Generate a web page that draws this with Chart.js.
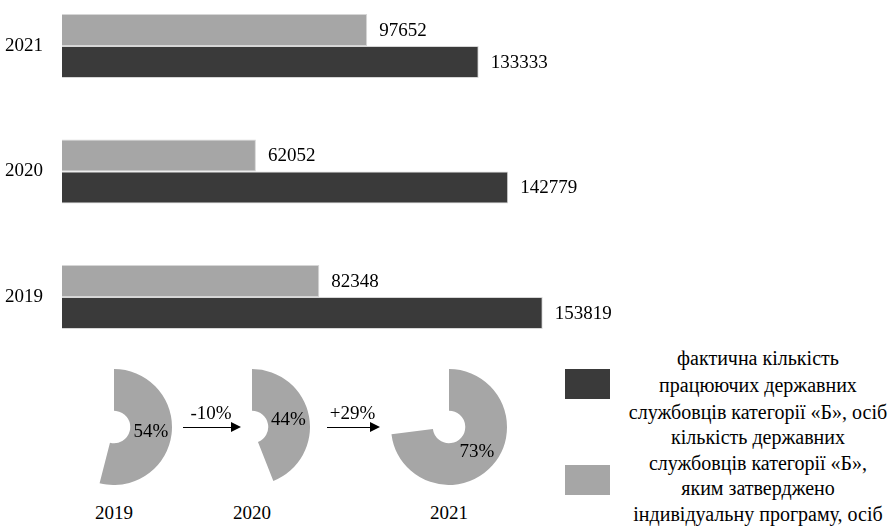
<!DOCTYPE html>
<html>
<head>
<meta charset="utf-8">
<script src="https://cdn.jsdelivr.net/npm/chart.js@4.4.0/dist/chart.umd.min.js"></script>
<style>
    body { margin: 0; background: #fff; }
    #wrap {
        position: relative; width: 893px; height: 527px; overflow: hidden;
        font-family: 'Liberation Serif', 'DejaVu Serif', serif; color: #000;
    }
    .abs { position: absolute; }
    .year { font-size: 19px; width: 60px; text-align: center; line-height: 20px; }
    .change { font-size: 19px; width: 70px; text-align: center; line-height: 20px; }
    .arrow { height: 0; border-top: 1.5px solid #000; }
    .arrow::after {
        content: ''; position: absolute; right: -2px; top: -6px;
        border-left: 10px solid #000; border-top: 5px solid transparent; border-bottom: 5px solid transparent;
    }
    .legend-box { width: 45px; height: 30px; }
    .legend-text { font-size: 20px; width: 340px; text-align: center; }
</style>
</head>
<body>
<div id="wrap">
    <div class="abs" style="left:0;top:0;width:893px;height:345px;"><canvas id="barChart"></canvas></div>
    <div id="bottom"></div>
</div>
<script>
// дані
const years = ['2021', '2020', '2019'];
const totalStaff = [133333, 142779, 153819];
const approvedStaff = [97652, 62052, 82348];

const pieYears = ['2019', '2020', '2021'];
const pieShares = [54, 44, 73];
const changes = ['-10%', '+29%'];

const legendLabels = [
    ['фактична кількість', 'працюючих державних', 'службовців категорії «Б», осіб'],
    ['кількість державних', 'службовців категорії «Б»,', 'яким затверджено', 'індивідуальну програму, осіб']
];

const DARK = '#3a3a3a';
const GRAY = '#a6a6a6';
const FONT = "'Liberation Serif', 'DejaVu Serif', serif";

// підписи значень біля стовпців
const valueLabels = {
    id: 'valueLabels',
    afterDatasetsDraw(chart) {
        const ctx = chart.ctx;
        ctx.save();
        ctx.font = '19px ' + FONT;
        ctx.fillStyle = '#000';
        ctx.textAlign = 'left';
        ctx.textBaseline = 'middle';
        chart.data.datasets.forEach((ds, i) => {
            chart.getDatasetMeta(i).data.forEach((bar, j) => {
                ctx.fillText(String(ds.data[j]), bar.x + 12, bar.y + 1);
            });
        });
        ctx.restore();
    }
};

new Chart(document.getElementById('barChart').getContext('2d'), {
    type: 'bar',
    data: {
        labels: years,
        datasets: [
            {
                label: legendLabels[1].join(' '),
                data: approvedStaff,
                backgroundColor: GRAY,
                borderColor: '#d6d6d6',
                borderWidth: 1,
                categoryPercentage: 0.51,
                barPercentage: 1.0,
                clip: false
            },
            {
                label: legendLabels[0].join(' '),
                data: totalStaff,
                backgroundColor: DARK,
                borderColor: '#d6d6d6',
                borderWidth: 1,
                categoryPercentage: 0.51,
                barPercentage: 1.0,
                clip: false
            }
        ]
    },
    options: {
        indexAxis: 'y',
        responsive: true,
        maintainAspectRatio: false,
        animation: false,
        layout: { padding: { top: 46, bottom: 48, right: 206 } },
        plugins: { legend: { display: false }, tooltip: { enabled: false } },
        scales: {
            x: { display: false, min: 0, max: 200000 },
            y: {
                offset: false,
                grid: { display: false, drawTicks: false },
                border: { display: false },
                ticks: { font: { family: FONT, size: 19 }, color: '#000', padding: 19 },
                afterFit(scale) { scale.width = 62; }
            }
        }
    },
    plugins: [valueLabels]
});

// кругові діаграми
const pieCenters = [114, 252, 449];
const pieCy = 427;
const pieR = 58;
const bottom = document.getElementById('bottom');

const pieLabel = {
    id: 'pieLabel',
    afterDatasetsDraw(chart) {
        const arc = chart.getDatasetMeta(0).data[0];
        const p = arc.getCenterPoint();
        const ctx = chart.ctx;
        ctx.save();
        ctx.font = '19px ' + FONT;
        ctx.fillStyle = '#000';
        ctx.textAlign = 'center';
        ctx.textBaseline = 'middle';
        ctx.fillText(chart.data.datasets[0].data[0] + '%', p.x, p.y);
        ctx.restore();
    }
};

pieYears.forEach((y, i) => {
    const box = document.createElement('div');
    box.className = 'abs';
    box.style.cssText = `left:${pieCenters[i] - pieR}px;top:${pieCy - pieR}px;width:${pieR * 2}px;height:${pieR * 2}px;`;
    const canvas = document.createElement('canvas');
    box.appendChild(canvas);
    bottom.appendChild(box);

    new Chart(canvas.getContext('2d'), {
        type: 'doughnut',
        data: {
            labels: ['share', 'rest'],
            datasets: [{
                data: [pieShares[i], 100 - pieShares[i]],
                backgroundColor: [GRAY, 'rgba(0,0,0,0)'],
                borderWidth: 0
            }]
        },
        options: {
            responsive: true,
            maintainAspectRatio: false,
            animation: false,
            cutout: '28%',
            plugins: { legend: { display: false }, tooltip: { enabled: false } }
        },
        plugins: [pieLabel]
    });

    const yl = document.createElement('div');
    yl.className = 'abs year';
    yl.style.left = (pieCenters[i] - 30) + 'px';
    yl.style.top = '503px';
    yl.textContent = y;
    bottom.appendChild(yl);
});

// стрілки між діаграмами
const arrows = [[183, 239], [327, 378]];
changes.forEach((c, i) => {
    const a = document.createElement('div');
    a.className = 'abs arrow';
    a.style.cssText = `left:${arrows[i][0]}px;top:427px;width:${arrows[i][1] - arrows[i][0]}px;`;
    bottom.appendChild(a);
    const t = document.createElement('div');
    t.className = 'abs change';
    t.style.left = ((arrows[i][0] + arrows[i][1]) / 2 - 35) + 'px';
    t.style.top = '403px';
    t.textContent = c;
    bottom.appendChild(t);
});

// легенда
const legendColors = [DARK, GRAY];
const boxTops = [369, 465];
const textTops = [345, 425];
const lineHeights = [27, 25.5];
legendLabels.forEach((lines, i) => {
    const b = document.createElement('div');
    b.className = 'abs legend-box';
    b.style.cssText += `left:565px;top:${boxTops[i]}px;background:${legendColors[i]};`;
    bottom.appendChild(b);
    const t = document.createElement('div');
    t.className = 'abs legend-text';
    t.style.left = (758 - 170) + 'px';
    t.style.top = textTops[i] + 'px';
    t.style.lineHeight = lineHeights[i] + 'px';
    t.innerHTML = lines.join('<br>');
    bottom.appendChild(t);
});
</script>
</body>
</html>
